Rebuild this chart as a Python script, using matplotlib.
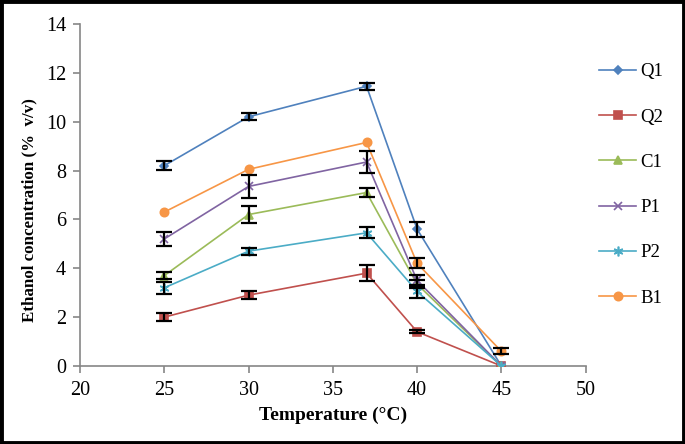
import numpy as np
from matplotlib import pyplot as plt
from matplotlib.patches import Rectangle

plt.rcParams['font.family'] = ['Liberation Serif', 'DejaVu Serif']

#%% data
temps = [25, 30, 37, 40, 45]
names = ["Q1", "Q2", "C1", "P1", "P2", "B1"]

Q1 = [8.2, 10.2, 11.45, 5.6, 0.0]
Q2 = [2.0, 2.9, 3.8, 1.4, 0.0]
C1 = [3.7, 6.2, 7.1, 3.35, 0.0]
P1 = [5.2, 7.35, 8.35, 3.5, 0.0]
P2 = [3.2, 4.7, 5.45, 3.05, 0.0]
B1 = [6.3, 8.05, 9.15, 4.2, 0.6]

Q1_err = [0.18, 0.15, 0.14, 0.3, 0.0]
Q2_err = [0.15, 0.17, 0.32, 0.07, 0.0]
C1_err = [0.15, 0.33, 0.17, 0.15, 0.0]
P1_err = [0.3, 0.47, 0.45, 0.22, 0.0]
P2_err = [0.25, 0.14, 0.22, 0.25, 0.0]
B1_err = [0.0, 0.0, 0.0, 0.2, 0.12]

series = [Q1, Q2, C1, P1, P2, B1]
errors = [Q1_err, Q2_err, C1_err, P1_err, P2_err, B1_err]
colors = ["#4F81BD", "#C0504D", "#9BBB59", "#8064A2", "#4BACC6", "#F79646"]
markers = ["D", "s", "^", "x", (6, 2, 0), "o"]
msizes = [4, 6, 6, 6, 7, 6]

#%%
fig = plt.figure(figsize=(6.85, 4.44), dpi=100)
ax = fig.add_axes([0.1168, 0.1757, 0.7382, 0.7703])

for vals, err, c, m, ms, n in zip(series, errors, colors, markers, msizes, names):
    ax.plot(temps, vals, color=c, marker=m, markersize=ms, linewidth=1.2,
            markeredgecolor=c, markeredgewidth=1.2, label=n, zorder=3)
    e = np.array(err)
    v = np.array(vals)
    t = np.array(temps)
    keep = e > 0
    ax.errorbar(t[keep], v[keep], yerr=e[keep], fmt='none', ecolor='black',
                elinewidth=1.6, capsize=5.5, capthick=1.6, zorder=4)

ax.set_xlim(20, 50)
ax.set_ylim(0, 14)
ax.set_xticks(range(20, 51, 5))
ax.set_yticks(range(0, 15, 2))

for s in ["top", "right"]:
    ax.spines[s].set_visible(False)
for s in ["left", "bottom"]:
    ax.spines[s].set_color("#868686")
    ax.spines[s].set_linewidth(1.2)
ax.tick_params(axis='both', colors="#868686", labelcolor="black",
               labelsize=14.5, length=5, width=1.2, direction='out')
ax.tick_params(axis='x', pad=6)
ax.tick_params(axis='y', pad=5)

ax.set_xlabel("Temperature (°C)", fontsize=14, fontweight='bold')
ax.set_ylabel("Ethanol concentration (%  v/v)", fontsize=12.2,
              fontweight='bold')
ax.xaxis.set_label_coords(0.5, -0.12)
ax.yaxis.set_label_coords(-0.085, 0.455)

leg = ax.legend(loc='upper left', bbox_to_anchor=(1.026, 0.885), frameon=False,
                fontsize=13.5, handlelength=2.0, handletextpad=0.2,
                labelspacing=1.5, borderaxespad=0, borderpad=0)

# black frame round the whole picture
fig.patches.append(Rectangle((0.002, 0.003), 0.996, 0.994, transform=fig.transFigure,
                             fill=False, edgecolor='black', linewidth=3.5))

fig.savefig("out.png", dpi=100)
